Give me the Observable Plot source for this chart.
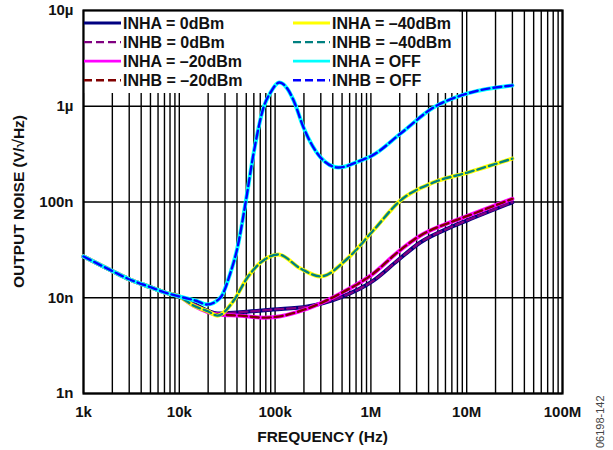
<!DOCTYPE html>
<html>
<head>
<meta charset="utf-8">
<script src="https://cdn.jsdelivr.net/npm/d3@7"></script>
<script src="https://cdn.jsdelivr.net/npm/@observablehq/plot@0.6"></script>
<style>
  html, body { margin: 0; padding: 0; background: #fff; }
  #chart { width: 613px; height: 450px; }
</style>
</head>
<body>
<div id="chart"></div>
<script>
// ---- axis ticks ----
const xTickValues = [1e3, 1e4, 1e5, 1e6, 1e7, 1e8];
const xTickLabels = ["1k", "10k", "100k", "1M", "10M", "100M"];
const yTickValues = [1e-9, 1e-8, 1e-7, 1e-6, 1e-5];
const yTickLabels = ["1n", "10n", "100n", "1µ", "10µ"];

// ---- shared low-frequency portion (all curves coincide) ----
const lowFreq  = [1000, 2000, 3000, 5000, 7000, 10000];
const lowNoise = [27e-9, 19e-9, 15.6e-9, 12.9e-9, 11.4e-9, 10.3e-9];

// ---- 0 dBm ----
const freq0dBm  = [14e3, 25e3, 43e3, 96e3, 218e3, 482e3, 1.06e6, 1.9e6, 3.3e6, 6.8e6, 10e6, 30e6];
const noise0dBm = [8.7e-9, 6.85e-9, 7.07e-9, 7.53e-9, 8.1e-9, 10.1e-9, 15.1e-9, 24.5e-9, 38e-9, 54.5e-9, 64e-9, 99.5e-9];

// ---- -20 dBm ----
const freqM20  = [14e3, 25e3, 43e3, 76e3, 96e3, 218e3, 482e3, 1.06e6, 1.9e6, 3.3e6, 6.8e6, 10e6, 30e6];
const noiseM20 = [8.3e-9, 6.7e-9, 6.5e-9, 6.2e-9, 6.27e-9, 7.72e-9, 11.1e-9, 17.9e-9, 29.9e-9, 44.7e-9, 61.5e-9, 71e-9, 108e-9];

// ---- -40 dBm ----
const freqM40  = [14e3, 20e3, 25e3, 37e3, 51.5e3, 70.5e3, 108e3, 184e3, 298e3, 570e3, 1.06e6, 2.04e6, 4.5e6, 10.2e6, 30e6];
const noiseM40 = [8.3e-9, 7.2e-9, 6.5e-9, 9.35e-9, 16.3e-9, 23.3e-9, 28.3e-9, 20.2e-9, 16.7e-9, 25.7e-9, 50.4e-9, 104e-9, 160e-9, 203e-9, 284e-9];

// ---- OFF ----
const freqOff  = [15e3, 19.5e3, 27e3, 34e3, 40.5e3, 49e3, 59.6e3, 75.7e3, 89.5e3, 111e3, 134e3, 156e3, 198e3, 298e3, 459e3, 779e3, 1e6, 2.04e6, 4.5e6, 10.2e6, 30e6];
const noiseOff = [9.3e-9, 8.5e-9, 10.1e-9, 17.9e-9, 33.5e-9, 96e-9, 321e-9, 970e-9, 1.39e-6, 1.77e-6, 1.53e-6, 1.15e-6, 600e-9, 292e-9, 229e-9, 271e-9, 300e-9, 519e-9, 970e-9, 1.36e-6, 1.65e-6];

// ---- series / legend ----
const seriesLabels = ["INHA = 0dBm", "INHB = 0dBm", "INHA = –20dBm", "INHB = –20dBm",
                      "INHA = –40dBm", "INHB = –40dBm", "INHA = OFF", "INHB = OFF"];
const seriesColors = ["#000080", "#800080", "#ff00ff", "#800000", "#ffff00", "#008080", "#00ffff", "#0000ff"];
const seriesDashed = [false, true, false, true, false, true, false, true];
const seriesFreq  = [freq0dBm, freq0dBm, freqM20, freqM20, freqM40, freqM40, freqOff, freqOff];
const seriesNoise = [noise0dBm, noise0dBm, noiseM20, noiseM20, noiseM40, noiseM40, noiseOff, noiseOff];

const xTitle = "FREQUENCY (Hz)";
const yTitle = "OUTPUT NOISE (V/√Hz)";
const figCode = "06198-142";

const FONT = "Arial, 'Liberation Sans', Helvetica, sans-serif";

const rowsFor = (i) => lowFreq.concat(seriesFreq[i]).map((f, k) => ({
  f, v: lowNoise.concat(seriesNoise[i])[k]
}));

// vertical grid: 1..9 × each decade
const xGrid = [];
for (let e = 3; e < 8; e++) for (let m = 1; m <= 9; m++) xGrid.push(m * Math.pow(10, e));
xGrid.push(1e8);

const lineMarks = seriesLabels.map((lab, i) => Plot.line(rowsFor(i), {
  x: "f", y: "v",
  stroke: seriesColors[i],
  strokeWidth: seriesDashed[i] ? 2.4 : 4,
  strokeDasharray: seriesDashed[i] ? "8,4" : null,
  curve: "monotone-x"
}));

function legendBackground(index, scales, values, dimensions) {
  const g = d3.create("svg:g");
  g.append("rect")
    .attr("x", dimensions.marginLeft)
    .attr("y", dimensions.marginTop)
    .attr("width", 376)
    .attr("height", 83)
    .attr("fill", "white");
  return g.node();
}

function legendItems(index, scales, values, dimensions) {
  const g = d3.create("svg:g");
  const colX = [dimensions.marginLeft + 1, dimensions.marginLeft + 210];
  seriesLabels.forEach((lab, i) => {
    const col = i < 4 ? 0 : 1;
    const row = i % 4;
    const cy = dimensions.marginTop + 13 + row * 19.1;
    const x0 = colX[col];
    g.append("line")
      .attr("x1", x0).attr("x2", x0 + 37)
      .attr("y1", cy).attr("y2", cy)
      .attr("stroke", seriesColors[i])
      .attr("stroke-width", seriesDashed[i] ? 2.4 : 2.8)
      .attr("stroke-dasharray", seriesDashed[i] ? "8,4" : null);
    g.append("text")
      .attr("x", x0 + 39).attr("y", cy)
      .attr("dy", "0.36em")
      .attr("text-anchor", "start")
      .attr("font-family", FONT)
      .attr("font-weight", "bold")
      .attr("font-size", 16)
      .attr("fill", "#111")
      .text(lab);
  });
  return g.node();
}

function titles(index, scales, values, dimensions) {
  const { width, height, marginLeft, marginRight, marginTop, marginBottom } = dimensions;
  const g = d3.create("svg:g")
    .attr("font-family", FONT)
    .attr("font-weight", "bold")
    .attr("fill", "#111");
  const cx = marginLeft + (width - marginLeft - marginRight) / 2;
  const cy = marginTop + (height - marginTop - marginBottom) / 2;
  g.append("text")
    .attr("x", cx).attr("y", height - marginBottom + 43)
    .attr("dy", "0.36em")
    .attr("text-anchor", "middle")
    .attr("font-size", 15.5)
    .text(xTitle);
  g.append("text")
    .attr("transform", `translate(${marginLeft - 65},${cy}) rotate(-90)`)
    .attr("dy", "0.36em")
    .attr("text-anchor", "middle")
    .attr("font-size", 15.5)
    .text(yTitle);
  g.append("text")
    .attr("transform", `translate(${width - 13},${height - 2}) rotate(-90)`)
    .attr("dy", "0.36em")
    .attr("text-anchor", "start")
    .attr("font-size", 11)
    .attr("font-weight", "normal")
    .attr("fill", "#444")
    .text(figCode);
  return g.node();
}

const chart = Plot.plot({
  width: 613,
  height: 450,
  marginLeft: 83,
  marginRight: 51,
  marginTop: 10,
  marginBottom: 57,
  style: { fontFamily: FONT, fontSize: "15px", fontWeight: "bold", color: "#111", background: "white" },
  x: {
    type: "log", domain: [1e3, 1e8],
    ticks: xTickValues,
    tickFormat: d => xTickLabels[xTickValues.indexOf(d)],
    tickSize: 0, tickPadding: 13, label: null
  },
  y: {
    type: "log", domain: [1e-9, 1e-5],
    ticks: yTickValues,
    tickFormat: d => yTickLabels[yTickValues.indexOf(d)],
    tickSize: 0, tickPadding: 10, label: null
  },
  marks: [
    Plot.ruleX(xGrid, { stroke: "#000", strokeWidth: 1.4 }),
    Plot.ruleY(yTickValues, { stroke: "#000", strokeWidth: 1.5 }),
    legendBackground,
    Plot.frame({ stroke: "#000", strokeWidth: 2.2 }),
    ...lineMarks,
    legendItems,
    titles
  ]
});

document.getElementById("chart").appendChild(chart);
</script>
</body>
</html>
